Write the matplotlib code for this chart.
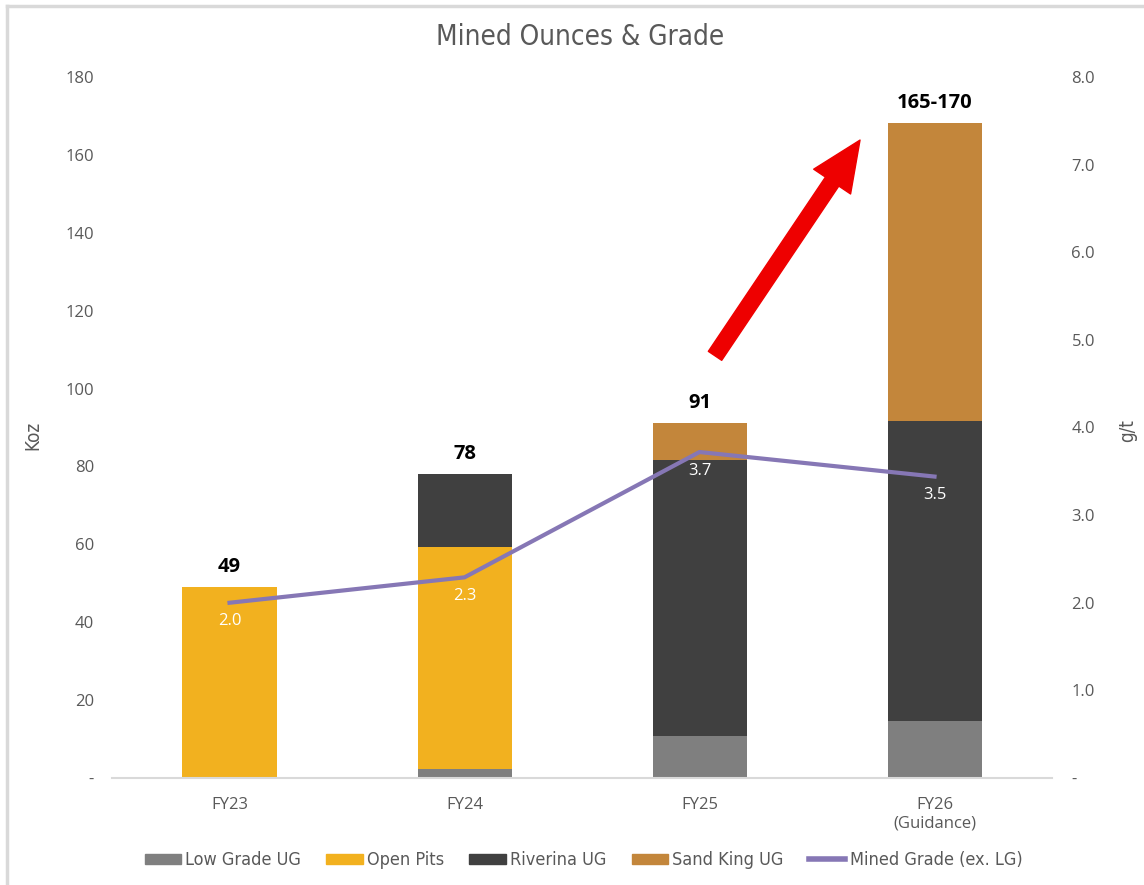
import matplotlib
matplotlib.use("Agg")
import matplotlib.pyplot as plt
from matplotlib.patches import Patch
from matplotlib.lines import Line2D
import numpy as np

categories = ["FY23", "FY24", "FY25", "FY26\n(Guidance)"]
low_grade_ug = [0.0, 2.3, 10.8, 14.6]
open_pits = [49.0, 57.0, 0.0, 0.0]
riverina_ug = [0.0, 18.7, 70.9, 77.1]
sand_king_ug = [0.0, 0.0, 9.5, 76.5]
mined_grade = [2.0, 2.29, 3.72, 3.44]
grade_labels = ["2.0", "2.3", "3.7", "3.5"]
total_labels = ["49", "78", "91", "165-170"]

narrow = "DejaVu Sans"
tick_font = "Open Sans"
label_font = "Open Sans"

grey_txt = "#595959"
c_low = "#7F7F7F"
c_open = "#F2B11F"
c_riv = "#404040"
c_sand = "#C3863B"
c_line = "#8677B5"

fig = plt.figure(figsize=(11.44, 8.85), dpi=100)
ax = fig.add_axes([0.0979, 0.1209, 0.8217, 0.7921])
ax2 = ax.twinx()

x = np.arange(len(categories))
w = 0.4
bottom = np.zeros(len(categories))
for vals, col in [(low_grade_ug, c_low), (open_pits, c_open), (riverina_ug, c_riv), (sand_king_ug, c_sand)]:
    ax.bar(x, vals, w, bottom=bottom, color=col, zorder=2)
    bottom += np.array(vals)

for xi, top, lab in zip(x, bottom, total_labels):
    ax.text(xi, top + 2.5, lab, ha="center", va="bottom", fontsize=14.5, fontweight="bold",
            family=label_font, color="black")

ax2.plot(x, mined_grade, color=c_line, lw=3, zorder=3)
for xi, g, lab in zip(x, mined_grade, grade_labels):
    ax2.text(xi, g - 0.12, lab, ha="center", va="top", fontsize=12, family=label_font, color="white")

ax.set_xlim(-0.5, 3.5)
ax.set_ylim(0, 180)
ax2.set_ylim(0, 8)
ax.set_yticks(range(0, 181, 20))
ax.set_yticklabels(["-"] + [str(v) for v in range(20, 181, 20)])
ax2.set_yticks(range(0, 9))
ax2.set_yticklabels(["-"] + [f"{v:.1f}" for v in range(1, 9)])
ax.set_xticks(x)
ax.set_xticklabels(categories)

for a in (ax, ax2):
    for s in a.spines.values():
        s.set_visible(False)
    a.tick_params(length=0, colors=grey_txt, labelsize=12)
    for t in a.get_yticklabels() + a.get_xticklabels():
        t.set_family(tick_font)
ax.spines["bottom"].set_visible(True)
ax.spines["bottom"].set_color("#D9D9D9")
ax.spines["bottom"].set_linewidth(1.5)
ax.tick_params(axis="y", pad=13)
ax2.tick_params(axis="y", pad=14)
ax.tick_params(axis="x", pad=14)

ax.set_ylabel("Koz", fontsize=13.5, color=grey_txt, family=narrow, fontstretch="condensed")
ax.yaxis.set_label_coords(-0.0745, 0.489)
ax2.set_ylabel("g/t", fontsize=13.5, color=grey_txt, family=narrow, fontstretch="condensed", rotation=90)
ax2.yaxis.set_label_coords(1.070, 0.496)

ax.annotate("", xy=(2.683, 163.8), xytext=(2.066, 108.4),
            arrowprops=dict(arrowstyle="simple,head_width=1.6,head_length=1.8,tail_width=0.58",
                            mutation_scale=20, color="#EE0000", shrinkA=0, shrinkB=0), zorder=5)

fig.suptitle("Mined Ounces & Grade", x=0.507, y=0.974, fontsize=20, color=grey_txt, family=narrow,
             fontstretch="condensed")

handles = [Patch(color=c_low), Patch(color=c_open), Patch(color=c_riv), Patch(color=c_sand),
           Line2D([], [], color=c_line, lw=4)]
names = ["Low Grade UG", "Open Pits", "Riverina UG", "Sand King UG", "Mined Grade (ex. LG)"]
fig.legend(handles, names, loc="center", bbox_to_anchor=(0.51, 0.028), ncol=5, frameon=False,
           prop={"family": narrow, "size": 13, "stretch": "condensed"}, labelcolor=grey_txt,
           handlelength=2.0, handleheight=0.5, handletextpad=0.25, columnspacing=1.4)

fig.add_artist(Line2D([0.006, 0.006], [0, 0.993], transform=fig.transFigure, color="#D9D9D9", lw=2.5))
fig.add_artist(Line2D([0.006, 1], [0.993, 0.993], transform=fig.transFigure, color="#D9D9D9", lw=2.5))

fig.savefig("out.png", dpi=100)
